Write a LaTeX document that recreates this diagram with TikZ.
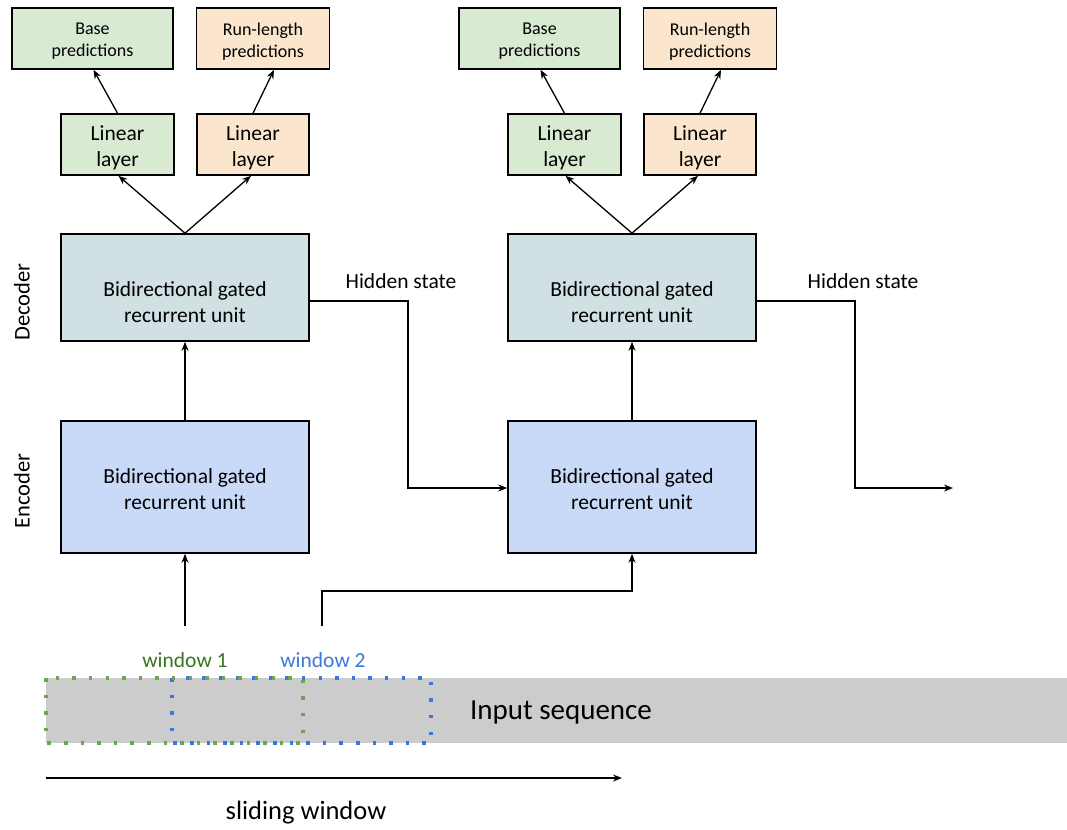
\documentclass[tikz,border=0pt]{standalone}
\usepackage{fontspec}
\setmainfont{Carlito}
\usetikzlibrary{arrows.meta,calc}
\definecolor{grnfill}{HTML}{D9EAD3}
\definecolor{orfill}{HTML}{FCE5CD}
\definecolor{decfill}{HTML}{D0E0E3}
\definecolor{encfill}{HTML}{C9DAF8}
\definecolor{seqgray}{HTML}{CCCCCC}
\definecolor{dotgreen}{HTML}{6AA84F}
\definecolor{dotblue}{HTML}{3C78D8}
\definecolor{txtgreen}{HTML}{38761D}
\begin{document}
\begin{tikzpicture}[x=1pt,y=-1pt,
  box/.style={draw=black,line width=1.6pt,inner sep=0pt},
  predbox/.style={box,minimum height=61pt},
  linbox/.style={box,minimum height=61pt,minimum width=112pt},
  grubox/.style={box,minimum width=248pt},
  predtxt/.style={align=center,inner sep=0pt,font=\fontsize{18}{22}\selectfont},
  lintxt/.style={align=center,inner sep=0pt,font=\fontsize{21.5}{26}\selectfont},
  grutxt/.style={align=center,inner sep=0pt,font=\fontsize{21.5}{26}\selectfont},
  conn/.style={line width=1.3pt,-{Stealth[length=9pt,width=7pt]}},
  lbl/.style={font=\fontsize{21.5}{24}\selectfont,inner sep=0pt},
  win/.style={line width=3.5pt,dash pattern=on 3.5pt off 13.1pt}
]
\useasboundingbox (0,0) rectangle (1067,829);

% column 1 boxes
\node[predbox,fill=grnfill,minimum width=161pt] (bp1) at (92.5,38.5) {};
\node[predbox,fill=orfill,minimum width=133pt] (rp1) at (263,38.5) {};
\node[linbox,fill=grnfill,minimum width=113pt] (ll1) at (117.5,144.5) {};
\node[linbox,fill=orfill] (lo1) at (253,144.5) {};
\node[grubox,fill=decfill,minimum height=107pt] (dec1) at (185,287.5) {};
\node[grubox,fill=encfill,minimum height=132pt] (enc1) at (185,487) {};
% column 1 texts
\node[predtxt] (bp1t) at ($(bp1.center)+(0,3)$) {Base\\predictions};
\node[predtxt] (rp1t) at ($(rp1.center)+(0,3)$) {Run-length\\predictions};
\node[lintxt] (ll1t) at ($(ll1.center)+(0,3.5)$) {Linear\\layer};
\node[lintxt] (lo1t) at ($(lo1.center)+(0,3.5)$) {Linear\\layer};
\node[grutxt] (dec1t) at ($(dec1.center)+(0,14.5)$) {Bidirectional gated\\recurrent unit};
\node[grutxt] (enc1t) at ($(enc1.center)+(0,2)$) {Bidirectional gated\\recurrent unit};

% column 2 boxes
\node[predbox,fill=grnfill,minimum width=161pt] (bp2) at (539.5,38.5) {};
\node[predbox,fill=orfill,minimum width=133pt] (rp2) at (710,38.5) {};
\node[linbox,fill=grnfill,minimum width=113pt] (ll2) at (564.5,144.5) {};
\node[linbox,fill=orfill] (lo2) at (700,144.5) {};
\node[grubox,fill=decfill,minimum height=107pt] (dec2) at (632,287.5) {};
\node[grubox,fill=encfill,minimum height=132pt] (enc2) at (632,487) {};
% column 2 texts
\node[predtxt] (bp2t) at ($(bp2.center)+(0,3)$) {Base\\predictions};
\node[predtxt] (rp2t) at ($(rp2.center)+(0,3)$) {Run-length\\predictions};
\node[lintxt] (ll2t) at ($(ll2.center)+(0,3.5)$) {Linear\\layer};
\node[lintxt] (lo2t) at ($(lo2.center)+(0,3.5)$) {Linear\\layer};
\node[grutxt] (dec2t) at ($(dec2.center)+(0,14.5)$) {Bidirectional gated\\recurrent unit};
\node[grutxt] (enc2t) at ($(enc2.center)+(0,2)$) {Bidirectional gated\\recurrent unit};

% side labels
\node[lbl,font=\fontsize{22.5}{26}\selectfont,rotate=90] (declbl) at (22,302) {Decoder};
\node[lbl,font=\fontsize{22.5}{26}\selectfont,rotate=90] (enclbl) at (22,491) {Encoder};

% arrows column 1
\draw[conn] (ll1.north) -- ($(bp1.south)+(1,0)$);
\draw[conn] (lo1.north) -- ($(rp1.south)+(11,0)$);
\draw[conn] (dec1.north) -- ($(ll1.south)+(1,0)$);
\draw[conn] (dec1.north) -- ($(lo1.south)+(-2,0)$);
\draw[conn] (enc1.north) -- (dec1.south);

% arrows column 2
\draw[conn] (ll2.north) -- ($(bp2.south)+(1,0)$);
\draw[conn] (lo2.north) -- ($(rp2.south)+(11,0)$);
\draw[conn] (dec2.north) -- ($(ll2.south)+(1,0)$);
\draw[conn] (dec2.north) -- ($(lo2.south)+(-2,0)$);
\draw[conn] (enc2.north) -- (dec2.south);

% hidden states
\node[lbl] (hs1) at (401,281) {Hidden state};
\node[lbl] (hs2) at (863,281) {Hidden state};
\draw[conn] ($(dec1.east)+(0,13.5)$) -- (408,301) -- (408,488) -- (enc2.west |- 0,488);
\coordinate (hsend) at (953,488);
\draw[conn] ($(dec2.east)+(0,13.5)$) -- (855,301) -- (855,488) -- (hsend);

% input sequence
\node[fill=seqgray,minimum width=1021pt,minimum height=65pt,inner sep=0pt] (seq) at (556.5,710.5) {};
\node[font=\fontsize{29}{32}\selectfont,inner sep=0pt] (seqlbl) at (561,713) {Input sequence};
\draw[win,dotblue] (172,678) rectangle (431,743);
\draw[win,dotgreen] (46,678) rectangle (303,743);
\node[lbl,text=txtgreen] (w1) at (185,660) {window 1};
\node[lbl,text=dotblue] (w2) at (323,660) {window 2};

% inputs to encoders
\coordinate (in1) at (185,626);
\coordinate (in2) at (322,626);
\draw[conn] (in1) -- (enc1.south);
\draw[conn] (in2) -- (322,591) -- (632,591) -- (enc2.south);

% sliding window arrow
\coordinate (sw1) at (46,778);
\coordinate (sw2) at (622,778);
\draw[conn] (sw1) -- (sw2);
\node[font=\fontsize{26.5}{30}\selectfont,inner sep=0pt] (swlbl) at (306,813) {sliding window};
\end{tikzpicture}
\end{document}
